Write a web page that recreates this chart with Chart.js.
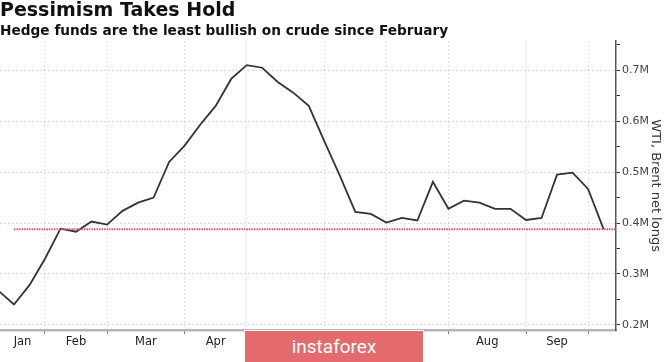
<!DOCTYPE html>
<html>
<head>
<meta charset="utf-8">
<script src="https://cdn.jsdelivr.net/npm/chart.js@4.4.1/dist/chart.umd.min.js"></script>
<style>
  html, body { margin: 0; padding: 0; background: #fff; }
  #wrap { position: relative; width: 665px; height: 362px; }
  #mark {
    position: absolute; left: 244px; top: 330px; width: 178px; height: 31px;
    background: #e46a6b; border: 1px solid #fff; border-bottom: none;
    color: #fff; font: 19px Roboto, sans-serif; text-align: center; line-height: 31px;
  }
</style>
</head>
<body>
<div id="wrap">
  <canvas id="chart"></canvas>
  <div id="mark">instaforex</div>
</div>
<script>
// weekly CFTC dates (Fridays, 2019)
const weeks = [
  '2019-01-11', '2019-01-18', '2019-01-25',
  '2019-02-01', '2019-02-08', '2019-02-15', '2019-02-22',
  '2019-03-01', '2019-03-08', '2019-03-15', '2019-03-22', '2019-03-29',
  '2019-04-05', '2019-04-12', '2019-04-19', '2019-04-26',
  '2019-05-03', '2019-05-10', '2019-05-17', '2019-05-24', '2019-05-31',
  '2019-06-07', '2019-06-14', '2019-06-21', '2019-06-28',
  '2019-07-05', '2019-07-12', '2019-07-19', '2019-07-26',
  '2019-08-02', '2019-08-09', '2019-08-16', '2019-08-23', '2019-08-30',
  '2019-09-06', '2019-09-13', '2019-09-20', '2019-09-27',
  '2019-10-04', '2019-10-11'
];

// WTI + Brent net longs, millions of contracts
const netLongs = [
  0.267, 0.240, 0.278,
  0.330, 0.389, 0.383, 0.403,
  0.397, 0.424, 0.440, 0.450, 0.520,
  0.552, 0.593, 0.630, 0.683,
  0.710, 0.705, 0.677, 0.656, 0.630,
  0.561, 0.493, 0.422, 0.418,
  0.401, 0.410, 0.405, 0.481,
  0.428, 0.444, 0.440, 0.428, 0.428,
  0.406, 0.410, 0.495, 0.499,
  0.467, 0.388
];

const monthLabels = ['Jan', 'Feb', 'Mar', 'Apr', 'May', 'Jun', 'Jul', 'Aug', 'Sep'];
const yTicks = [0.2, 0.3, 0.4, 0.5, 0.6, 0.7];

const xMin = 0.1, xMax = 39.8;
const gridColor = 'rgba(0,0,0,0.13)';

// month boundaries = first week of each month
const bounds = [];
for (let i = 1; i < weeks.length; i++) {
  if (weeks[i].slice(5, 7) !== weeks[i - 1].slice(5, 7)) bounds.push(i);
}
const edges = [xMin].concat(bounds);
const centers = {};
monthLabels.forEach(function(m, i) {
  centers[((edges[i] + edges[i + 1]) / 2).toFixed(3)] = m;
});
const isBound = v => bounds.indexOf(v) !== -1;

const lastVal = netLongs[netLongs.length - 1];

const data = {
  datasets: [{
    label: 'latest',
    data: [{x: 1, y: lastVal}, {x: xMax, y: lastVal}],
    borderColor: 'rgb(230, 80, 130)',
    borderWidth: 2,
    borderDash: [1.5, 1],
    pointRadius: 0
  }, {
    label: 'Net longs',
    data: netLongs.map((v, i) => ({x: i, y: v})),
    borderColor: '#333',
    borderWidth: 1.8,
    tension: 0,
    pointRadius: 0
  }]
};

const config = {
  type: 'line',
  data: data,
  options: {
    responsive: true,
    maintainAspectRatio: false,
    animation: false,
    layout: { padding: 0 },
    plugins: {
      legend: { display: false },
      tooltip: { enabled: false },
      title: {
        display: true,
        text: 'Pessimism Takes Hold',
        align: 'start',
        color: '#111',
        font: { family: 'DejaVu Sans', size: 19, weight: 'bold' },
        padding: { top: 0, bottom: 0 }
      },
      subtitle: {
        display: true,
        text: 'Hedge funds are the least bullish on crude since February',
        align: 'start',
        color: '#111',
        font: { family: 'DejaVu Sans', size: 13.7, weight: 'bold' },
        padding: { top: 0, bottom: 2 }
      }
    },
    scales: {
      x: {
        type: 'linear',
        position: 'bottom',
        min: xMin,
        max: xMax,
        afterBuildTicks: function(axis) {
          const vals = bounds.concat(Object.keys(centers).map(Number)).sort((a, b) => a - b);
          axis.ticks = vals.map(v => ({ value: v }));
        },
        afterFit: function(axis) { axis.height = 32; },
        ticks: {
          autoSkip: false,
          maxRotation: 0,
          padding: 1,
          color: '#222',
          font: { family: 'DejaVu Sans', size: 11.5 },
          callback: function(value) {
            return centers[Number(value).toFixed(3)] || '';
          }
        },
        grid: {
          color: ctx => (ctx.tick && isBound(ctx.tick.value)) ? gridColor : 'rgba(0,0,0,0)',
          tickColor: ctx => (ctx.tick && isBound(ctx.tick.value)) ? '#777' : 'rgba(0,0,0,0)',
          tickLength: 4,
          lineWidth: 1
        },
        border: { color: '#b5b5b5', width: 2.5, dash: [2, 2] }
      },
      y: {
        position: 'right',
        min: 0.19,
        max: 0.757,
        afterBuildTicks: function(axis) {
          const vals = [];
          yTicks.forEach(function(t) { vals.push(t, t + 0.05); });
          axis.ticks = vals.map(v => ({ value: v }));
        },
        afterFit: function(axis) { axis.width = 49; },
        ticks: {
          padding: 2,
          color: '#444',
          font: { family: 'DejaVu Sans', size: 11 },
          callback: function(value) {
            const major = yTicks.some(t => Math.abs(t - value) < 1e-6);
            return major ? value.toFixed(1) + 'M' : '';
          }
        },
        grid: {
          color: ctx => (ctx.tick && yTicks.some(t => Math.abs(t - ctx.tick.value) < 1e-6)) ? gridColor : 'rgba(0,0,0,0)',
          tickColor: '#333',
          tickLength: 4,
          lineWidth: 1
        },
        border: { color: '#555', width: 1.5, dash: [2, 2] },
        title: {
          display: true,
          text: 'WTI, Brent net longs',
          color: '#333',
          font: { family: 'DejaVu Sans', size: 13 },
          padding: { top: 2, bottom: 0 }
        }
      }
    }
  }
};

const context = document.getElementById('chart').getContext('2d');
const myChart = new Chart(context, config);
</script>
</body>
</html>
